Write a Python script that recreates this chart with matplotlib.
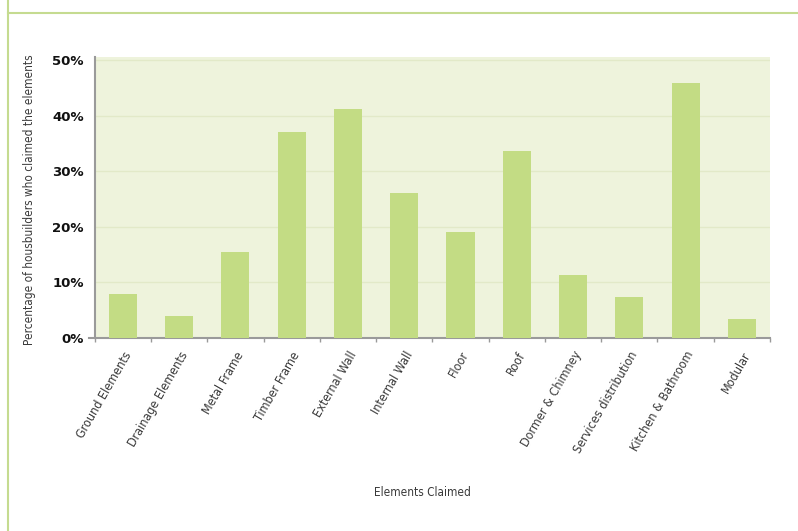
import matplotlib
matplotlib.use("Agg")
import matplotlib.pyplot as plt
from matplotlib.lines import Line2D
import numpy as np

# data
categories = ['Ground Elements', 'Drainage Elements', 'Metal Frame', 'Timber Frame',
              'External Wall', 'Internal Wall', 'Floor', 'Roof', 'Dormer & Chimney',
              'Services distribution', 'Kitchen & Bathroom', 'Modular']
percent = [8.0, 4.0, 15.4, 37.1, 41.2, 26.1, 19.0, 33.7, 11.3, 7.4, 45.9, 3.4]
y_ticks = [0, 10, 20, 30, 40, 50]
y_tick_labels = ['0%', '10%', '20%', '30%', '40%', '50%']

bar_color = '#c3dc84'
bg_color = '#eef3dc'
frame_green = '#c5db90'
axis_gray = '#9a9a9a'

plt.rcParams['font.family'] = ['DejaVu Sans']

fig = plt.figure(figsize=(7.98, 5.31), dpi=100)
ax = fig.add_axes([94.7 / 798, 1 - 338 / 531, (770 - 94.7) / 798, (338 - 57) / 531])

x = np.arange(len(categories))
ax.bar(x, percent, width=0.5, color=bar_color, zorder=3)

ax.set_facecolor(bg_color)
ax.set_xlim(-0.5, len(categories) - 0.5)
ax.set_ylim(0, 50.6)

ax.set_yticks(y_ticks)
ax.set_yticklabels(y_tick_labels, fontsize=9.5, color='#111111', fontweight='bold')
ax.tick_params(axis='y', length=0, pad=8)
ax.grid(axis='y', color='#e2e9c8', linewidth=1, zorder=1)

ax.set_xticks(x)
ax.set_xticklabels(categories, rotation=60, ha='right', rotation_mode='anchor',
                   fontsize=9, color='#3a3a3a', fontstretch='condensed')
ax.tick_params(axis='x', length=0, pad=8)
ax.set_xticks(np.arange(len(categories) + 1) - 0.5, minor=True)
ax.tick_params(axis='x', which='minor', length=3, color=axis_gray, width=1)

for side in ['top', 'right']:
    ax.spines[side].set_visible(False)
ax.spines['left'].set_color(axis_gray)
ax.spines['left'].set_linewidth(1.5)
ax.spines['bottom'].set_color(axis_gray)
ax.spines['bottom'].set_linewidth(1.5)
ax.spines['bottom'].set_bounds(-0.6, len(categories) - 0.5)

fig.text(30 / 798, 1 - 200 / 531, 'Percentage of housbuilders who claimed the elements',
         rotation=90, ha='center', va='center', fontsize=8.5, color='#3a3a3a',
         fontstretch='condensed')
fig.text(422 / 798, 1 - 492 / 531, 'Elements Claimed', ha='center', va='center',
         fontsize=8.5, color='#3a3a3a', fontstretch='condensed')

# green frame lines of the page
fig.add_artist(Line2D([8 / 798, 8 / 798], [0, 1], transform=fig.transFigure,
                      color=frame_green, linewidth=1.5))
fig.add_artist(Line2D([8 / 798, 1], [1 - 13 / 531, 1 - 13 / 531], transform=fig.transFigure,
                      color=frame_green, linewidth=1.5))

fig.savefig('out.png', dpi=100)
